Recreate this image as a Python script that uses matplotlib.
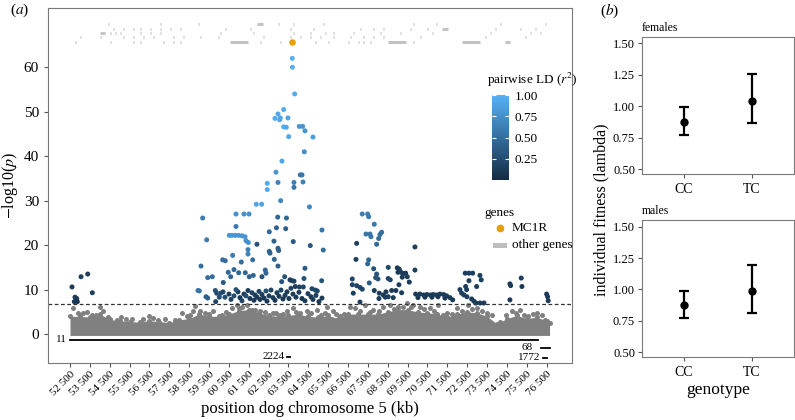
import numpy as np
import matplotlib
matplotlib.use('Agg')
import matplotlib.pyplot as plt
from matplotlib.colors import LinearSegmentedColormap
from matplotlib.lines import Line2D
from matplotlib.patches import Rectangle

plt.rcParams['font.family'] = ['Liberation Serif', 'DejaVu Serif']
plt.rcParams['mathtext.fontset'] = 'stix'

# ---- panel (a) data: positions in kb, -log10(p), pairwise LD ----
sig_x = [63693, 63700, 63814, 63260, 62973, 62822, 63089, 63059, 63476, 63260,
         63391, 64045, 64216, 64332, 63512, 64735, 64297, 63174, 62872, 64096,
         64181, 62434, 62973, 63778, 64232, 62434, 63778, 63109, 64559, 61880,
         62152, 59181, 60858, 61261, 61513, 62958, 63401, 60858, 62897, 63361,
         65188, 62535, 60521, 60657, 60823, 60994, 61161, 61312, 61362, 61478,
         59383, 62771, 63743, 64599, 65254, 61915, 61462, 61462, 61699, 61125,
         60692, 60188, 60319, 62535, 62570, 62973, 63008, 62787, 62973, 59096,
         59433, 59665, 58945, 59010, 59348, 59433, 60470, 60591, 60994, 61326,
         61528, 61729, 62167, 62333, 62368, 63159, 63310, 63577, 63678, 63778,
         63844, 64045, 64247, 64282, 64332, 64685, 64851, 64951, 65173, 60757,
         60219, 59816, 59886, 60088, 60017, 59836,
         # dense cluster just above the threshold
         60959, 61060, 61160, 61261, 61362, 61462, 61563, 61664, 61764, 61815,
         61915, 62016, 62067, 62167, 62268, 62369, 62419, 62520, 62620, 62721,
         62822, 62922, 63023, 63124, 63225, 63325, 63426, 63527, 63627, 63728,
         63879, 64030, 64181, 64332, 64483, 64634, 64735, 64886, 65037, 65188,
         60204, 60304, 60506, 60607, 60758, 60858,
         # left cluster
         52600, 53054, 53391, 53623, 52752, 52837, 52717, 52868,
         # right cluster
         67217, 67489, 67540, 67822, 67404, 67605, 67655, 68194, 68109, 68043,
         67942, 66935, 69871, 66900, 67540, 67489, 67791, 68526, 67942, 67892,
         68008, 68980, 69081, 69015, 69166, 69283, 69402, 69483, 69231, 69584,
         69871, 68526, 68627, 66714, 66714, 66935, 67102, 67217, 67570, 66764,
         67822, 68073, 68275, 68375, 68526, 68697, 68778, 68914, 69065, 69200,
         68058, 68411, 67102,
         69906, 70122, 70309, 70475, 70661, 70792, 70963, 71130, 71316, 71467,
         71633, 71769, 70022, 70374, 70726, 71029, 71381,
         72403, 72590, 72776, 73144, 73209, 72590, 72424, 72474, 72977, 72137,
         72222, 72338, 72489, 72725, 72841, 72942, 73144, 73345,
         74654, 74689, 75223, 75258, 74654, 76502, 76552, 76582]
sig_y = [62.0, 60.0, 54.0, 50.5, 49.5, 48.5, 48.6, 48.2, 48.6, 46.6,
         46.5, 46.7, 46.7, 45.7, 44.4, 44.3, 41.0, 38.9, 36.4, 35.8,
         35.8, 33.9, 34.1, 34.1, 34.2, 32.5, 33.0, 30.0, 28.6, 29.2,
         29.2, 26.1, 27.0, 27.0, 27.0, 26.3, 26.1, 24.2, 23.9, 23.7,
         23.4, 23.0, 22.2, 22.2, 22.2, 22.2, 22.1, 21.9, 21.0, 20.6,
         21.2, 20.9, 20.8, 19.9, 18.9, 20.2, 19.0, 18.0, 16.7, 16.2,
         17.7, 16.7, 16.5, 18.6, 18.2, 19.3, 18.8, 16.8, 15.3, 15.3,
         12.7, 12.9, 9.8, 9.7, 8.4, 8.1, 13.9, 12.9, 13.8, 13.8,
         12.9, 13.2, 12.9, 14.4, 13.7, 11.8, 12.9, 12.2, 12.0, 11.9,
         10.7, 10.6, 10.6, 12.5, 14.8, 10.2, 9.9, 9.7, 12.0, 14.5,
         11.6, 9.8, 9.2, 9.2, 8.3, 7.3,
         9.5, 8.2, 7.5, 9.0, 8.6, 9.8, 8.0, 9.3, 7.6, 8.8,
         8.3, 9.6, 7.8, 8.9, 8.1, 9.7, 7.4, 8.6, 9.9, 8.2,
         7.6, 9.3, 8.5, 9.9, 7.9, 8.7, 9.5, 8.0, 10.3, 9.0,
         8.3, 9.4, 8.0, 7.5, 9.1, 8.4, 7.8, 8.7, 7.3, 8.1,
         9.5, 8.3, 9.0, 7.8, 8.6, 10.0,
         10.6, 12.9, 13.5, 9.3, 8.3, 8.0, 7.3, 7.3,
         27.0, 27.0, 26.4, 24.7, 22.5, 22.5, 21.9, 22.9, 22.4, 21.5,
         20.2, 20.4, 19.6, 16.8, 16.7, 15.8, 14.7, 15.0, 13.5, 12.7,
         12.4, 14.9, 14.6, 13.9, 13.9, 13.6, 13.7, 12.9, 12.8, 11.7,
         14.4, 12.5, 12.2, 12.4, 11.1, 10.9, 10.5, 10.1, 11.5, 9.2,
         9.8, 9.2, 8.8, 8.3, 8.4, 9.8, 8.2, 9.8, 11.1, 9.3,
         8.0, 9.5, 7.2,
         9.0, 9.0, 8.8, 8.9, 8.8, 8.9, 8.8, 9.0, 8.9, 8.6,
         8.2, 7.7, 8.2, 8.3, 8.3, 8.4, 8.1,
         13.7, 13.7, 13.7, 13.2, 12.2, 12.0, 10.7, 10.0, 10.7, 10.0,
         9.2, 8.8, 8.4, 7.9, 7.4, 7.0, 7.0, 7.0,
         11.3, 10.9, 12.6, 10.7, 7.7, 9.0, 8.4, 7.5]
sig_ld = [1.00, 0.98, 0.95, 0.95, 0.93, 0.95, 0.92, 0.92, 0.90, 0.95,
          0.92, 0.80, 0.78, 0.78, 0.92, 0.85, 0.72, 0.90, 0.80, 0.55,
          0.55, 0.95, 0.65, 0.62, 0.65, 0.95, 0.55, 0.68, 0.68, 0.90,
          0.90, 0.60, 0.75, 0.75, 0.75, 0.45, 0.45, 0.60, 0.40, 0.40,
          0.55, 0.45, 0.80, 0.80, 0.80, 0.80, 0.80, 0.80, 0.75, 0.75,
          0.60, 0.40, 0.35, 0.35, 0.50, 0.30, 0.65, 0.65, 0.50, 0.50,
          0.60, 0.50, 0.50, 0.40, 0.40, 0.40, 0.40, 0.45, 0.40, 0.50,
          0.50, 0.50, 0.55, 0.55, 0.40, 0.40, 0.45, 0.45, 0.45, 0.45,
          0.40, 0.45, 0.30, 0.45, 0.45, 0.30, 0.30, 0.15, 0.15, 0.15,
          0.15, 0.20, 0.20, 0.30, 0.35, 0.20, 0.20, 0.20, 0.30, 0.45,
          0.35, 0.30, 0.25, 0.30, 0.25, 0.20,
          0.15, 0.10, 0.20, 0.12, 0.25, 0.15, 0.10, 0.20, 0.12, 0.15,
          0.10, 0.20, 0.12, 0.15, 0.10, 0.25, 0.10, 0.15, 0.20, 0.12,
          0.10, 0.15, 0.12, 0.20, 0.10, 0.15, 0.12, 0.10, 0.20, 0.15,
          0.12, 0.15, 0.10, 0.12, 0.15, 0.10, 0.12, 0.15, 0.10, 0.12,
          0.20, 0.25, 0.15, 0.20, 0.25, 0.30,
          0.12, 0.15, 0.15, 0.15, 0.12, 0.12, 0.10, 0.10,
          0.62, 0.62, 0.60, 0.58, 0.55, 0.55, 0.55, 0.52, 0.50, 0.50,
          0.45, 0.15, 0.15, 0.15, 0.45, 0.45, 0.30, 0.20, 0.30, 0.30,
          0.30, 0.12, 0.12, 0.12, 0.12, 0.12, 0.12, 0.12, 0.12, 0.12,
          0.15, 0.20, 0.20, 0.20, 0.20, 0.20, 0.20, 0.20, 0.35, 0.15,
          0.15, 0.12, 0.12, 0.12, 0.15, 0.12, 0.12, 0.12, 0.15, 0.12,
          0.12, 0.12, 0.15,
          0.12, 0.12, 0.12, 0.12, 0.12, 0.12, 0.12, 0.12, 0.12, 0.12,
          0.12, 0.12, 0.10, 0.10, 0.10, 0.10, 0.10,
          0.15, 0.15, 0.15, 0.15, 0.15, 0.15, 0.15, 0.15, 0.15, 0.15,
          0.15, 0.15, 0.15, 0.12, 0.12, 0.12, 0.12, 0.12,
          0.12, 0.12, 0.12, 0.12, 0.10, 0.12, 0.12, 0.12]

# non-significant SNP cloud: solid body top (every 500 kb) + scattered fringe
base_x = list(range(52500, 77000, 500)) + [76650]
base_top = [4.0, 4.0, 3.8, 4.5, 3.3, 3.0, 2.8, 2.7, 3.0, 2.8,
            2.6, 3.2, 3.5, 4.5, 4.0, 4.0, 4.5, 5.3, 5.5, 4.8,
            4.2, 4.0, 4.2, 4.5, 4.0, 3.8, 4.2, 3.5, 4.5, 4.5,
            4.5, 4.5, 5.0, 5.5, 5.5, 5.0, 4.8, 4.5, 3.8, 4.5,
            5.0, 4.8, 4.0, 2.3, 3.5, 4.2, 3.5, 3.8, 3.0, 2.5]
fringe_x = [52666, 53170, 54011, 53593, 54177, 54882, 55320, 56694, 56946, 58124,
            58376, 58794, 58678, 59297, 59715, 60138, 60642, 60893, 61145, 61397,
            61649, 62067, 62736, 63074, 63411, 63743, 64081, 64418, 64921, 65339,
            65425, 65757, 66095, 66598, 66850, 67353, 67771, 68275, 68612, 69030,
            69453, 69786, 70123, 70626, 71044, 71467, 71971, 72555, 72977, 73480,
            74151, 74740, 75158, 75576, 75998, 76416,
            52900, 53350, 53800, 54400, 55050, 55600, 56200, 56500, 57300, 57800,
            58550, 59050, 59500, 60350, 61000, 61800, 62300, 62850, 63250, 63900,
            64650, 65150, 65900, 66300, 67100, 67600, 68050, 68800, 69250, 69650,
            70350, 70850, 71300, 71750, 72250, 72750, 73250, 73750, 74450, 74950,
            75350, 75800, 76250]
fringe_y = [5.8, 4.7, 6.0, 4.3, 5.1, 3.2, 3.4, 3.7, 3.2, 4.7,
            4.0, 6.4, 5.1, 4.7, 5.1, 4.3, 5.8, 6.6, 6.2, 6.6,
            5.5, 5.1, 4.7, 4.3, 5.1, 5.8, 4.7, 5.1, 5.5, 4.7,
            6.2, 5.1, 4.0, 6.2, 5.8, 6.6, 5.5, 6.2, 6.6, 6.2,
            7.0, 6.6, 6.2, 5.8, 6.6, 4.7, 5.8, 6.6, 5.8, 4.7,
            2.8, 5.1, 5.5, 4.0, 4.7, 3.2,
            4.8, 5.0, 4.4, 3.8, 3.9, 3.5, 3.4, 4.0, 3.4, 3.2,
            4.2, 5.2, 4.6, 5.0, 5.8, 5.4, 4.9, 4.8, 4.6, 5.0,
            4.8, 4.3, 4.6, 4.5, 5.2, 5.0, 5.3, 5.7, 6.0, 6.1,
            5.6, 5.2, 4.4, 4.6, 5.3, 5.6, 5.1, 4.4, 4.2, 4.8,
            4.2, 4.5, 4.3]

# gene track (kb start, kb end, row)
gene_start = [52752, 54514, 54850, 55689, 56024, 56360, 56864, 57199, 57703, 58038,
              58374, 60136, 60556, 62066, 62402, 62654, 63073, 64164, 64835, 65507,
              65926, 66514, 67017, 67269, 67604, 67940, 68500, 69786, 72237, 74402,
              53003, 54010, 54598, 55185, 55353, 55689, 56192, 56696, 57367, 57703,
              58206, 59045, 59968, 60388, 62234, 62905, 63577, 64080, 64584, 65087,
              65759, 66598, 67269, 67772, 68276, 68947, 70123, 73395, 75409,
              52836, 54010, 54514, 54766, 55017, 55353, 55605, 56024, 56528, 57031,
              57367, 57870, 58374, 60052, 61730, 62402, 63745, 64584, 65339, 65759,
              66766, 67437, 68108, 69115, 69954, 70727, 73647, 75661, 76165,
              53087, 54346, 54682, 55185, 55689, 56024, 56528, 57031, 57535, 58038,
              58877, 59884, 60304, 61563, 62905, 63577, 64164, 64751, 65171, 65926,
              67101, 67772, 68276, 69618, 70475, 71230, 73899, 75158, 75913,
              54430, 54850, 55857, 56360, 57031, 57367, 58961, 60388, 61898, 62989,
              63745, 64668, 65255, 66682, 67437, 69786, 70929, 74151, 76416]
gene_end = [52782, 54544, 54880, 55719, 56054, 56390, 56894, 57229, 57733, 58068,
            58404, 60166, 61479, 62096, 62432, 62684, 63103, 64194, 64865, 65537,
            65956, 66544, 67047, 67299, 67634, 67970, 69420, 69816, 73144, 74654,
            53033, 54040, 54628, 55215, 55383, 55719, 56222, 56726, 57397, 57733,
            58236, 59075, 59998, 60418, 62264, 62935, 63607, 64110, 64614, 65117,
            65789, 66628, 67299, 67802, 68306, 68977, 70153, 73425, 75439,
            52866, 54262, 54544, 54796, 55047, 55383, 55635, 56054, 56558, 57061,
            57397, 57900, 58404, 60082, 61760, 62432, 63775, 64614, 65369, 65789,
            66796, 67467, 68138, 69145, 69984, 70757, 73677, 75691, 76195,
            53117, 54376, 54712, 55215, 55719, 56054, 56558, 57061, 57565, 58068,
            58907, 59914, 60334, 61593, 62935, 63607, 64194, 64781, 65201, 65956,
            67131, 67802, 68306, 69648, 70505, 71532, 73929, 75188, 75943,
            54460, 54880, 55887, 56390, 57061, 57397, 58991, 60418, 62234, 63019,
            63775, 64698, 65285, 66712, 67467, 69816, 70959, 74181, 76446]
gene_row = [0] * 30 + [1] * 29 + [2] * 29 + [3] * 29 + [4] * 19

mc1r_x, mc1r_y = 63663, 65.7
threshold = 6.8

xticks = list(range(52500, 77000, 1000))

# ---- panel (b) data ----
genotypes = ['CC', 'TC']
fem_mean = [0.875, 1.04]
fem_lo = [0.77, 0.865]
fem_hi = [0.995, 1.255]
male_mean = [0.875, 0.99]
male_lo = [0.775, 0.815]
male_hi = [0.99, 1.195]

ld_cmap = LinearSegmentedColormap.from_list('ld', ['#132B43', '#56B1F7'])
frame_col = '#7a7a7a'

fig = plt.figure(figsize=(7.95, 4.2), dpi=100)

# ---------------- panel (a) ----------------
ax = fig.add_axes([0.0604, 0.1357, 0.659, 0.845])
ax.fill_between(base_x, -0.3, base_top, color='#808080', lw=0)
ax.scatter(base_x, base_top, s=13, color='#808080', lw=0)
ax.scatter(fringe_x, fringe_y, s=13, color='#808080', lw=0)
ax.axhline(threshold, color='#333333', lw=0.9, ls=(0, (3, 2)))
sc = ax.scatter(sig_x, sig_y, c=sig_ld, cmap=ld_cmap, vmin=0, vmax=1, s=13, lw=0, zorder=3)

for s, e, r in zip(gene_start, gene_end, gene_row):
    ax.plot([s, e], [65.7 + r, 65.7 + r], color='#c4c4c4', lw=2.2,
            solid_capstyle='butt', zorder=2)
ax.scatter([mc1r_x], [mc1r_y], s=22, color='#E69F00', lw=0, zorder=4)

# bottom annotation lines
ax.plot([52500, 76080], [-1.3, -1.3], color='black', lw=1.3)
ax.text(52334, -1.3, '11', ha='right', va='center', fontsize=8)
ax.plot([63441, 63592], [-5.1, -5.1], color='black', lw=1.3)
ax.text(63325, -5.1, '2224', ha='right', va='center', fontsize=8)
ax.plot([76215, 76668], [-3.1, -3.1], color='black', lw=1.3)
ax.text(75812, -3.1, '68', ha='right', va='center', fontsize=8)
ax.plot([76331, 76500], [-5.3, -5.3], color='black', lw=1.3)
ax.text(76165, -5.3, '1772', ha='right', va='center', fontsize=8)

ax.set_xlim(51392, 77776)
ax.set_ylim(-6.5, 73.3)
ax.set_yticks(range(0, 61, 10))
ax.set_xticks(xticks)
ax.set_xticklabels(['{:,}'.format(t).replace(',', ' ') for t in xticks],
                   rotation=45, ha='right', rotation_mode='anchor', fontsize=8)
ax.tick_params(axis='y', labelsize=11, length=3, color='#555555')
ax.tick_params(axis='x', length=3, color='#555555', pad=2)
for sp in ax.spines.values():
    sp.set_color(frame_col)
    sp.set_linewidth(0.8)
ax.set_xlabel('position dog chromosome 5 (kb)', fontsize=12, labelpad=2)
ax.set_ylabel(r'$-$log10($p$)', fontsize=11.5, labelpad=3)

# colour bar
cax = fig.add_axes([0.6189, 0.5714, 0.0214, 0.2024])
cb = fig.colorbar(sc, cax=cax, ticks=[0.25, 0.5, 0.75, 1.0])
cb.ax.set_yticklabels(['0.25', '0.50', '0.75', '1.00'])
cb.outline.set_visible(False)
cax.tick_params(direction='in', color='white', length=3, width=0.8,
                labelsize=9.5, left=True, right=True, pad=4)
fig.text(0.6126, 0.8095, r'pairwise LD ($r^2$)', fontsize=9.5, va='center')

# genes legend
fig.text(0.6088, 0.4929, 'genes', fontsize=9.5, va='center')
fig.add_artist(Line2D([0.629], [0.457], marker='o', ms=4.5, color='#E69F00',
                      lw=0, transform=fig.transFigure))
fig.text(0.643, 0.457, 'MC1R', fontsize=9.5, va='center')
fig.add_artist(Rectangle((0.620, 0.410), 0.018, 0.012, color='#bebebe',
                         transform=fig.transFigure, lw=0))
fig.text(0.644, 0.4167, 'other genes', fontsize=9.5, va='center')

fig.text(0.012, 0.975, r'($a$)', fontsize=11, va='center')
fig.text(0.755, 0.975, r'($b$)', fontsize=11, va='center')

# ---------------- panel (b) ----------------
def fitness_panel(axb, mean, lo, hi, title, show_xlabel):
    xs = np.arange(1, len(genotypes) + 1)
    yerr = [np.array(mean) - np.array(lo), np.array(hi) - np.array(mean)]
    axb.errorbar(xs, mean, yerr=yerr, fmt='o', color='black', ms=5,
                 elinewidth=1.6, capsize=3.5, capthick=1.6)
    axb.set_xlim(0.38, 2.62)
    axb.set_ylim(0.46, 1.553)
    axb.set_xticks(xs)
    axb.set_xticklabels(genotypes, fontsize=10)
    axb.set_yticks([0.5, 0.75, 1.0, 1.25, 1.5])
    axb.set_yticklabels(['0.50', '0.75', '1.00', '1.25', '1.50'])
    axb.tick_params(axis='y', labelsize=9, length=3, color='#555555', pad=2)
    axb.tick_params(axis='x', length=3, color='#555555')
    for sp in axb.spines.values():
        sp.set_color(frame_col)
        sp.set_linewidth(0.8)
    axb.set_title(title, loc='left', fontsize=8.5, pad=4)
    if show_xlabel:
        axb.set_xlabel('genotype', fontsize=12.5, labelpad=2)

axf = fig.add_axes([0.8075, 0.585, 0.191, 0.3276])
fitness_panel(axf, fem_mean, fem_lo, fem_hi, 'females', False)
axm = fig.add_axes([0.8075, 0.1493, 0.191, 0.3269])
fitness_panel(axm, male_mean, male_lo, male_hi, 'males', True)
fig.text(0.757, 0.5, 'individual fitness (lambda)', rotation=90,
         fontsize=11.5, va='center', ha='center')

fig.savefig('out.png', dpi=100)
